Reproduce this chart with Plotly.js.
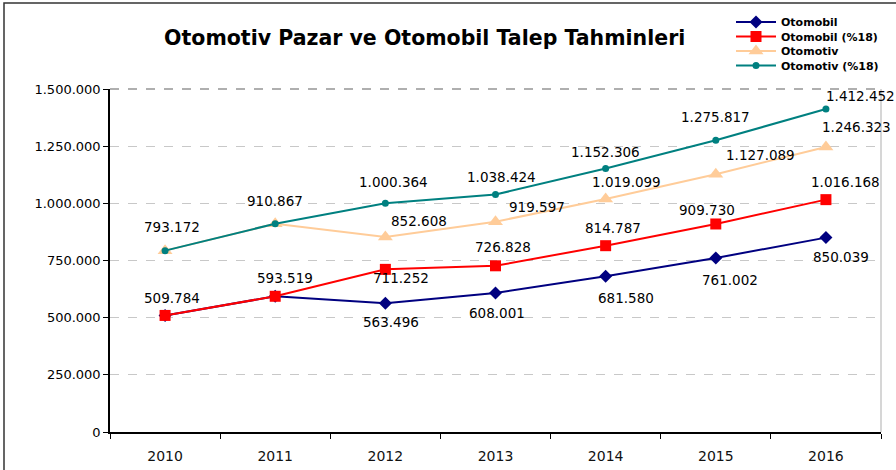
<!DOCTYPE html>
<html>
<head>
<meta charset="utf-8">
<script src="https://cdn.plot.ly/plotly-3.0.1.min.js"></script>
<style>
  html, body { margin: 0; padding: 0; background: #fff; }
  #chart { width: 896px; height: 470px; }
</style>
</head>
<body>
<div id="chart"></div>
<script>
// ---- data ----
const years = ['2010', '2011', '2012', '2013', '2014', '2015', '2016'];
const seriesNames = ['Otomobil', 'Otomobil (%18)', 'Otomotiv', 'Otomotiv (%18)'];
const otomobil = [509784, 593519, 563496, 608001, 681580, 761002, 850039];
const otomobil18 = [509784, 593519, 711252, 726828, 814787, 909730, 1016168];
const otomotiv = [793172, 910867, 852608, 919597, 1019099, 1127089, 1246323];
const otomotiv18 = [793172, 910867, 1000364, 1038424, 1152306, 1275817, 1412452];
const yTicks = [0, 250000, 500000, 750000, 1000000, 1250000, 1500000];

// ---- styling ----
const colors = ['#000080', '#FF0000', '#FFCC99', '#008080'];
const symbols = ['diamond', 'square', 'triangle-up', 'circle'];
const msizes = [10, 11, 13, 7];
const labelShown = [
  [false, false, true, true, true, true, true],
  [true, true, true, true, true, true, true],
  [false, false, true, true, true, true, true],
  [true, true, true, true, true, true, true]
];
const labelOffsets = [
  [[0,0],[0,0],[6,19],[1,20],[20,22],[14,22],[15,19]],
  [[7,-17],[10,-18],[16,9],[7,-19],[7,-18],[-9,-14],[20,-18]],
  [[0,0],[0,0],[34,-16],[41,-15],[21,-17],[45,-19],[31,-20]],
  [[7,-24],[0,-23],[8,-21],[6,-18],[0,-17],[0,-23],[35,-13]]
];
const legendRowsPx = [22, 36.5, 51, 65.5];

function fmt(v) {
  return String(v).replace(/\B(?=(\d{3})+(?!\d))/g, '.');
}

const allSeries = [otomobil, otomobil18, otomotiv, otomotiv18];
const legendIds = ['legend', 'legend2', 'legend3', 'legend4'];

const traces = allSeries.map((vals, i) => ({
  type: 'scatter',
  mode: 'lines+markers',
  name: seriesNames[i],
  x: years,
  y: vals,
  legend: legendIds[i],
  line: { color: colors[i], width: 2 },
  marker: { color: colors[i], symbol: symbols[i], size: msizes[i] },
  hoverinfo: 'x+y+name'
}));

const annotations = [];
allSeries.forEach((vals, i) => {
  vals.forEach((v, j) => {
    if (!labelShown[i][j]) return;
    annotations.push({
      x: j, y: v, xref: 'x', yref: 'y',
      text: fmt(v), showarrow: false,
      xanchor: 'center', yanchor: 'middle',
      xshift: labelOffsets[i][j][0], yshift: -labelOffsets[i][j][1],
      font: { family: 'DejaVu Sans, Verdana, sans-serif', size: 13.5, color: '#000000' }
    });
  });
});

const PL = 110, PT = 89, PW = 771, PH = 343;
const legendFont = { family: 'DejaVu Sans, Verdana, sans-serif', size: 11, weight: 'bold', color: '#000' };
function legendAt(rowPx) {
  return {
    x: (731 - PL) / PW, xanchor: 'left',
    y: (PT + PH - rowPx) / PH, yanchor: 'middle',
    bgcolor: 'rgba(0,0,0,0)', borderwidth: 0,
    font: legendFont, itemwidth: 40
  };
}

const layout = {
  width: 896, height: 470,
  margin: { l: PL, r: 15, t: PT, b: 38, pad: 0, autoexpand: false },
  paper_bgcolor: '#ffffff',
  plot_bgcolor: '#ffffff',
  separators: ',.',
  showlegend: true,
  title: {
    text: 'Otomotiv Pazar ve Otomobil Talep Tahminleri',
    x: 0.474, xanchor: 'center', xref: 'container',
    y: 0.919, yanchor: 'middle', yref: 'container',
    font: { family: 'DejaVu Sans, Verdana, sans-serif', size: 20.5, weight: 'bold', color: '#000' }
  },
  legend: legendAt(legendRowsPx[0]),
  legend2: legendAt(legendRowsPx[1]),
  legend3: legendAt(legendRowsPx[2]),
  legend4: legendAt(legendRowsPx[3]),
  xaxis: {
    type: 'category',
    range: [-0.5, 6.5],
    tickson: 'boundaries',
    ticks: 'outside', ticklen: 5, tickcolor: '#000', tickwidth: 1,
    ticklabelstandoff: 10,
    showline: true, linecolor: '#000', linewidth: 1.5,
    showgrid: false, zeroline: false,
    tickfont: { family: 'DejaVu Sans, Verdana, sans-serif', size: 14, color: '#111' },
    fixedrange: true
  },
  yaxis: {
    range: [0, 1500000],
    tickvals: yTicks,
    tickformat: ',d',
    ticks: 'outside', ticklen: 5, tickcolor: '#000', tickwidth: 1,
    showline: true, linecolor: '#000', linewidth: 1.5,
    showgrid: true, gridcolor: '#c8c8c8', griddash: 'dash', gridwidth: 1,
    zeroline: false,
    tickfont: { family: 'DejaVu Sans, Verdana, sans-serif', size: 13, color: '#000' },
    fixedrange: true
  },
  annotations: annotations,
  shapes: [
    { type: 'line', xref: 'paper', yref: 'paper', x0: 0, x1: 1, y0: 1, y1: 1,
      line: { color: '#606060', width: 1.2, dash: 'dash' }, layer: 'below' },
    { type: 'line', xref: 'paper', yref: 'paper', x0: 1, x1: 1, y0: 0, y1: 1,
      line: { color: '#c8c8c8', width: 1.5 }, layer: 'below' },
    { type: 'rect', xref: 'paper', yref: 'paper',
      x0: (4 - PL) / PW, x1: (905 - PL) / PW,
      y0: (PT + PH - 480) / PH, y1: (PT + PH - 3) / PH,
      line: { color: '#333333', width: 1.5 }, fillcolor: 'rgba(0,0,0,0)', layer: 'below' }
  ]
};

Plotly.newPlot('chart', traces, layout, { displayModeBar: false });
</script>
</body>
</html>
